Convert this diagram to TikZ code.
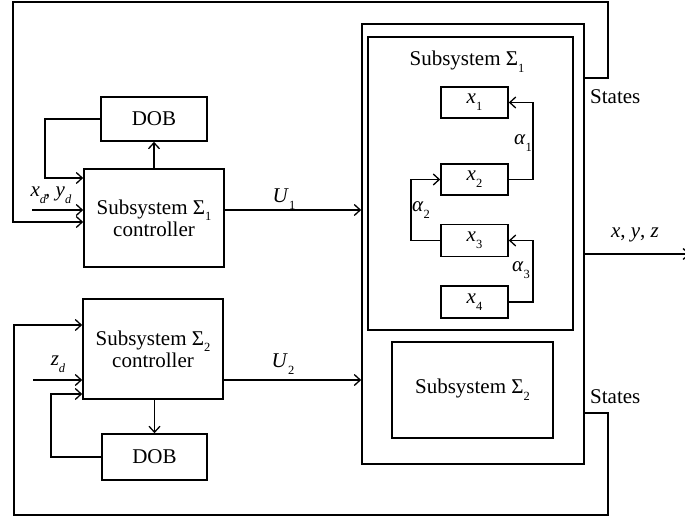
\documentclass[tikz,border=0pt]{standalone}
\usepackage{fontspec}
\setmainfont{Liberation Serif}
\usetikzlibrary{arrows.meta}
% lowered small index for variable names
\newcommand\lowsub[1]{\raisebox{-0.32em}{\fontsize{12.5}{12.5}\selectfont #1}}
\begin{document}
\begin{tikzpicture}[x=1pt,y=-1pt,
  every node/.style={font=\fontsize{21}{23}\selectfont},
  blk/.style={draw, line width=1.6pt, inner sep=0pt, align=center},
  wire/.style={line width=1.6pt},
  arr/.style={wire, -{Straight Barb[length=6pt,width=11pt,line width=1.3pt]}},
  lbl/.style={inner sep=0pt}]
\useasboundingbox (0,0) rectangle (685,521);

% controllers and disturbance observers
\node[blk, minimum width=106pt, minimum height=44pt] (dob1) at (154,119) {DOB};
\node[blk, minimum width=140pt, minimum height=98pt] (ctl1) at (154,218)
  {Subsystem Σ\lowsub{1}\\[-1pt]controller};
\node[blk, minimum width=140pt, minimum height=100pt] (ctl2) at (153,349)
  {Subsystem Σ\lowsub{2}\\[-1pt]controller};
\node[blk, minimum width=105pt, minimum height=46pt] (dob2) at (154.5,457) {DOB};

% plant
\node[blk, minimum width=222pt, minimum height=440pt] (outer) at (473,244) {};
\node[blk, minimum width=205pt, minimum height=293pt] (sig1) at (470.5,183.5) {};
\node[lbl] (sig1t) at (467,62) {Subsystem Σ\lowsub{1}};
\node[blk, minimum width=67pt, minimum height=31pt] (x1) at (474.5,102.5) {\textit{x}\lowsub{1}};
\node[blk, minimum width=67pt, minimum height=31pt] (x2) at (474.5,179.5) {\textit{x}\lowsub{2}};
\node[blk, minimum width=67pt, minimum height=32pt] (x3) at (474.5,240.5) {\textit{x}\lowsub{3}};
\node[blk, minimum width=67pt, minimum height=32pt] (x4) at (474.5,302) {\textit{x}\lowsub{4}};
\node[blk, minimum width=161pt, minimum height=96pt] (sig2) at (472.5,390) {Subsystem Σ\lowsub{2}};

% chain inside subsystem 1
\draw[arr] (x2.east) -- ++(24,0) |- (x1.east);
\draw[arr] (x3.west) -- ++(-29,0) |- (x2.west);
\draw[arr] (x4.east) -- ++(24,0) |- (x3.east);
\node[lbl] (a1) at (523,143) {\textit{α}\lowsub{1}};
\node[lbl] (a2) at (421,210) {\textit{α}\lowsub{2}};
\node[lbl] (a3) at (521,270) {\textit{α}\lowsub{3}};

% controller 1 wiring
\draw[arr] (ctl1.north) -- (dob1.south);
\draw[arr] (dob1.west) -- (45,119) -- (45,178) -- (ctl1.west |- {(0,178)});
\coordinate (xdin) at (32,210);
\draw[arr] (xdin) -- (xdin -| ctl1.west);
\node[lbl] (xdl) at (51,195) {\textit{x}\lowsub{\textit{d}}\kern-1pt, \textit{y}\lowsub{\textit{d}}};
\draw[arr] (ctl1.east |- {(0,210)}) -- (outer.west |- {(0,210)});
\node[lbl] (u1) at (284,199) {\textit{U}\lowsub{1}};

% controller 2 wiring
\draw[arr] (ctl2.south -| dob2.north) -- (dob2.north);
\draw[arr] (dob2.west) -- (51,457) -- (51,394) -- (ctl2.west |- {(0,394)});
\coordinate (zdin) at (33,380);
\draw[arr] (zdin) -- (zdin -| ctl2.west);
\node[lbl] (zdl) at (58,364) {\textit{z}\lowsub{\textit{d}}};
\draw[arr] (ctl2.east |- {(0,380)}) -- (outer.west |- {(0,380)});
\node[lbl] (u2) at (283,364) {\textit{U}\lowsub{2}};

% state feedback paths
\draw[arr] (outer.east |- {(0,78)}) -- (608,78) -- (608,2) -- (13,2) -- (13,222)
  -- (ctl1.west |- {(0,222)});
\node[lbl, anchor=west] (st1) at (590,97) {States};
\draw[arr] (outer.east |- {(0,413)}) -- (608,413) -- (608,515) -- (14,515) -- (14,325)
  -- (ctl2.west |- {(0,325)});
\node[lbl, anchor=west] (st2) at (590,397) {States};

% measured outputs
\coordinate (yout) at (690,254);
\draw[arr] (outer.east |- yout) -- (yout);
\node[lbl] (xyz) at (635,235) {\textit{x}, \textit{y}, \textit{z}};
\end{tikzpicture}
\end{document}
